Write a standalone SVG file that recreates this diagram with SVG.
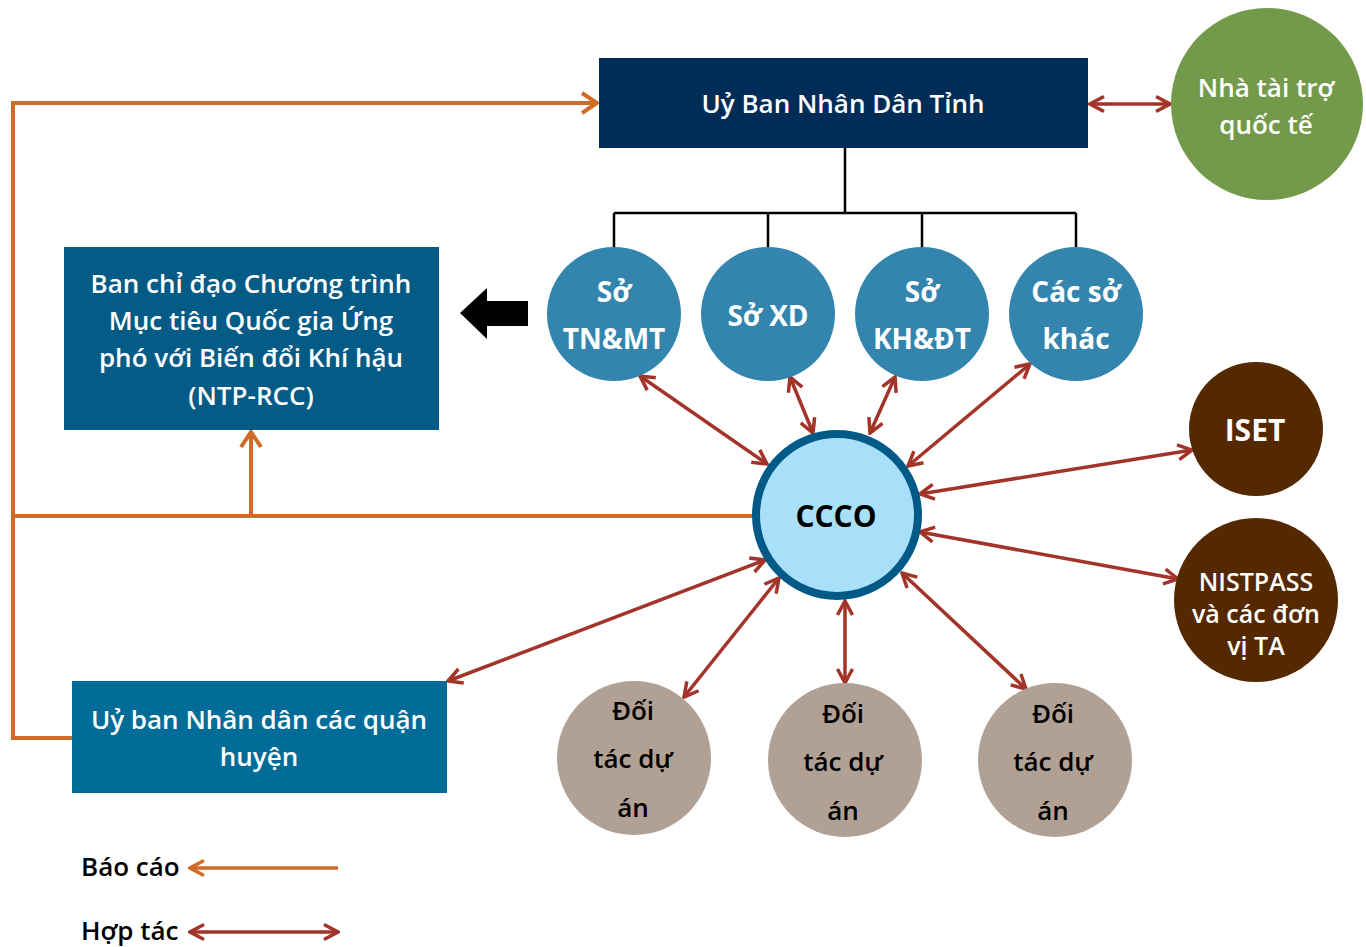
<svg xmlns="http://www.w3.org/2000/svg" width="1366" height="947" viewBox="0 0 1366 947">
<style>
  text{font-family:"Open Sans","Noto Sans","Liberation Sans",sans-serif;text-anchor:middle}
  .w{fill:#fff;font-weight:600;font-size:26px}
  .wb{fill:#fff;font-weight:700;font-size:28px}
  .k{fill:#000;font-weight:600;font-size:26px}
  .kb{fill:#000;font-weight:700;font-size:30px}
  .or{stroke:#D06B27;stroke-width:4;fill:none}
  .rd{stroke:#A2342A;stroke-width:3.5;fill:none}
  .tree{stroke:#000;stroke-width:2.5;fill:none}
</style>
<defs>
  <marker id="mo" viewBox="0 0 20 24" refX="18" refY="12" markerWidth="20" markerHeight="24" markerUnits="userSpaceOnUse" orient="auto-start-reverse">
    <path d="M3,2 L18,12 L3,22" fill="none" stroke="#D06B27" stroke-width="4"/>
  </marker>
  <marker id="mo2" viewBox="0 0 18 20" refX="16" refY="10" markerWidth="18" markerHeight="20" markerUnits="userSpaceOnUse" orient="auto-start-reverse">
    <path d="M2,2.5 L16,10 L2,17.5" fill="none" stroke="#D06B27" stroke-width="3.5"/>
  </marker>
  <marker id="mr" viewBox="0 0 18 20" refX="16" refY="10" markerWidth="18" markerHeight="20" markerUnits="userSpaceOnUse" orient="auto-start-reverse">
    <path d="M2,2.5 L16,10 L2,17.5" fill="none" stroke="#A2342A" stroke-width="3.5"/>
  </marker>
</defs>
<rect width="1366" height="947" fill="#fff"/>

<g id="connectors">
  <path class="tree" d="M845,148 V213 M614,213 H1076 M614,213 V248 M768,213 V248 M922,213 V248 M1076,213 V248"/>
  <path class="or" d="M72,738 H13 V103 H597" marker-end="url(#mo)"/>
  <path class="or" d="M13,516 H753"/>
  <path class="or" d="M251,516 V432" marker-end="url(#mo)"/>
  <line class="rd" x1="1090" y1="104" x2="1170" y2="104" marker-start="url(#mr)" marker-end="url(#mr)"/>
  <line class="rd" x1="640" y1="376" x2="767" y2="464" marker-start="url(#mr)" marker-end="url(#mr)"/>
  <line class="rd" x1="790" y1="377" x2="813" y2="433" marker-start="url(#mr)" marker-end="url(#mr)"/>
  <line class="rd" x1="895" y1="377" x2="870" y2="433" marker-start="url(#mr)" marker-end="url(#mr)"/>
  <line class="rd" x1="1030" y1="364" x2="908" y2="466" marker-start="url(#mr)" marker-end="url(#mr)"/>
  <line class="rd" x1="1192" y1="450" x2="920" y2="494" marker-start="url(#mr)" marker-end="url(#mr)"/>
  <line class="rd" x1="1178" y1="579" x2="920" y2="532" marker-start="url(#mr)" marker-end="url(#mr)"/>
  <line class="rd" x1="684" y1="697" x2="779" y2="578" marker-start="url(#mr)" marker-end="url(#mr)"/>
  <line class="rd" x1="845" y1="683" x2="845" y2="601" marker-start="url(#mr)" marker-end="url(#mr)"/>
  <line class="rd" x1="1026" y1="689" x2="902" y2="573" marker-start="url(#mr)" marker-end="url(#mr)"/>
  <line class="rd" x1="448" y1="681" x2="765" y2="560" marker-start="url(#mr)" marker-end="url(#mr)"/>
  <polygon points="460,313 487,288 487,301 528,301 528,326 487,326 487,339" fill="#000"/>
</g>

<g id="ubnd-tinh">
  <rect x="599" y="58" width="489" height="90" fill="#002D57"/>
  <text class="w" x="843" y="113">Uỷ Ban Nhân Dân Tỉnh</text>
</g>

<g id="nha-tai-tro">
  <circle cx="1267" cy="104" r="96" fill="#739A4A"/>
  <text class="w" x="1266" y="97">Nhà tài trợ</text>
  <text class="w" x="1266" y="134">quốc tế</text>
</g>

<g id="so-tnmt">
  <circle cx="614" cy="314" r="67" fill="#3385AE"/>
  <text class="wb" x="614" y="302">Sở</text>
  <text class="wb" x="614" y="349">TN&amp;MT</text>
</g>
<g id="so-xd">
  <circle cx="768" cy="314" r="67" fill="#3385AE"/>
  <text class="wb" x="768" y="326">Sở XD</text>
</g>
<g id="so-khdt">
  <circle cx="922" cy="314" r="67" fill="#3385AE"/>
  <text class="wb" x="922" y="302">Sở</text>
  <text class="wb" x="922" y="349">KH&amp;ĐT</text>
</g>
<g id="cac-so-khac">
  <circle cx="1076" cy="314" r="67" fill="#3385AE"/>
  <text class="wb" x="1076" y="302">Các sở</text>
  <text class="wb" x="1076" y="349">khác</text>
</g>

<g id="ntp-rcc">
  <rect x="64" y="247" width="375" height="183" fill="#045B86"/>
  <text class="w" x="251" y="293">Ban chỉ đạo Chương trình</text>
  <text class="w" x="251" y="330">Mục tiêu Quốc gia Ứng</text>
  <text class="w" x="251" y="367">phó với Biến đổi Khí hậu</text>
  <text class="w" x="251" y="405">(NTP-RCC)</text>
</g>

<g id="ccco">
  <circle cx="837" cy="515" r="81" fill="#A9E0F9" stroke="#005A87" stroke-width="8"/>
  <text class="kb" x="836" y="527">CCCO</text>
</g>

<g id="iset">
  <circle cx="1256" cy="429" r="67" fill="#542900"/>
  <text class="wb" x="1255" y="441" style="font-size:30px">ISET</text>
</g>

<g id="nistpass">
  <circle cx="1256" cy="600" r="82" fill="#542900"/>
  <text class="w" x="1256" y="591" style="font-size:25px">NISTPASS</text>
  <text class="w" x="1256" y="623" style="font-size:25px">và các đơn</text>
  <text class="w" x="1256" y="655" style="font-size:25px">vị TA</text>
</g>

<g id="ubnd-quan-huyen">
  <rect x="72" y="681" width="375" height="112" fill="#006C97"/>
  <text class="w" x="259" y="729">Uỷ ban Nhân dân các quận</text>
  <text class="w" x="259" y="766">huyện</text>
</g>

<g id="doi-tac-1">
  <circle cx="634" cy="758" r="77" fill="#B1A195"/>
  <text class="k" x="633" y="720">Đối</text>
  <text class="k" x="633" y="768">tác dự</text>
  <text class="k" x="633" y="817">án</text>
</g>
<g id="doi-tac-2">
  <circle cx="845" cy="760" r="77" fill="#B1A195"/>
  <text class="k" x="843" y="723">Đối</text>
  <text class="k" x="843" y="771">tác dự</text>
  <text class="k" x="843" y="820">án</text>
</g>
<g id="doi-tac-3">
  <circle cx="1055" cy="760" r="77" fill="#B1A195"/>
  <text class="k" x="1053" y="723">Đối</text>
  <text class="k" x="1053" y="771">tác dự</text>
  <text class="k" x="1053" y="820">án</text>
</g>

<g id="legend">
  <text class="k" x="81" y="876" style="text-anchor:start">Báo cáo</text>
  <line class="or" x1="338" y1="868" x2="190" y2="868" marker-end="url(#mo2)" style="stroke-width:3.5"/>
  <text class="k" x="81" y="940" style="text-anchor:start">Hợp tác</text>
  <line class="rd" x1="190" y1="932" x2="338" y2="932" marker-start="url(#mr)" marker-end="url(#mr)"/>
</g>
</svg>
